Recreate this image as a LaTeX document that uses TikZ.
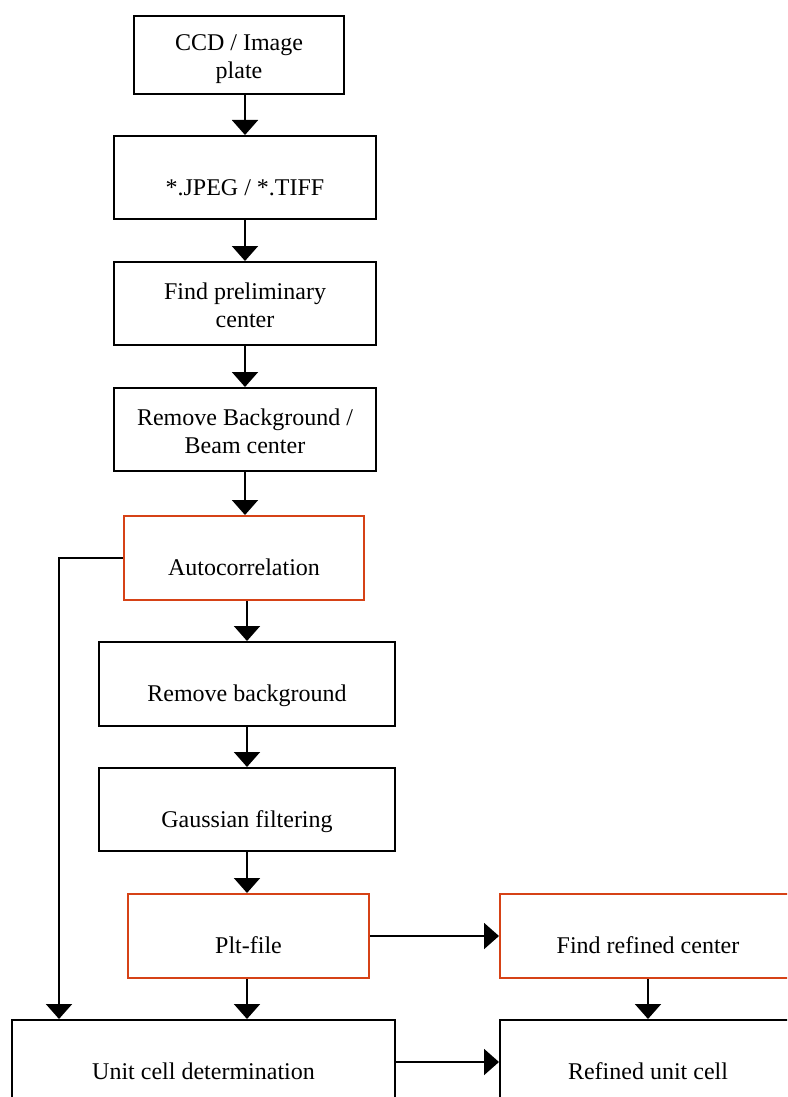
\documentclass[tikz,border=0pt]{standalone}
\usepackage{fontspec}
\setmainfont{Liberation Serif}
\usetikzlibrary{arrows.meta}
\definecolor{boxred}{RGB}{214,66,22}
\newcommand{\twolines}[2]{\raisebox{-2pt}[\height][\depth]{\begin{tabular}{@{}c@{}}#1\\#2\end{tabular}}}
\begin{document}
\begin{tikzpicture}[x=0.5pt,y=-0.5pt,
    every node/.style={draw,rectangle,line width=1pt,font=\fontsize{12}{14}\selectfont,inner sep=0},
    red/.style={draw=boxred},
    low/.style={text height=17.5pt,text depth=0pt},
    arr/.style={line width=1pt,-{Triangle[width=13pt,length=7.5pt]}}]
        \useasboundingbox (0,0) rectangle (787,1097);
        \clip (0,0) rectangle (787,1097);
        \node[minimum width=105pt,minimum height=39pt] (ccd) at (239,55) {\twolines{CCD / Image}{plate}};
        \node[low,minimum width=131pt,minimum height=41.5pt] (jpeg) at (245,177.5) {*.JPEG / *.TIFF};
        \node[minimum width=131pt,minimum height=41.5pt] (prelim) at (245,303.5) {\twolines{Find preliminary}{center}};
        \node[minimum width=131pt,minimum height=41.5pt] (beam) at (245,429.5) {\twolines{Remove Background /}{Beam center}};
        \node[red,low,minimum width=120pt,minimum height=42pt] (auto) at (244,558) {Autocorrelation};
        \node[low,minimum width=148pt,minimum height=42pt] (rembg) at (247,684) {Remove background};
        \node[low,minimum width=148pt,minimum height=41.5pt] (gauss) at (247,809.5) {Gaussian filtering};
        \node[red,low,minimum width=120.5pt,minimum height=42pt] (plt) at (248.5,936) {Plt-file};
        \node[red,low,minimum width=148pt,minimum height=42pt] (refcen) at (648,936) {Find refined center};
        \node[low,minimum width=191.5pt,minimum height=42pt] (cell) at (203.5,1062) {Unit cell determination};
        \node[low,minimum width=148pt,minimum height=42pt] (refcell) at (648,1062) {Refined unit cell};
        \coordinate (side) at (59,0);
        \draw[arr] (jpeg.north |- ccd.south) -- (jpeg.north);
        \draw[arr] (jpeg.south) -- (prelim.north);
        \draw[arr] (prelim.south) -- (beam.north);
        \draw[arr] (beam.south) -- (beam.south |- auto.north);
        \draw[arr] (rembg.north |- auto.south) -- (rembg.north);
        \draw[arr] (rembg.south) -- (gauss.north);
        \draw[arr] (gauss.south) -- (gauss.south |- plt.north);
        \draw[arr] (gauss.south |- plt.south) -- (gauss.south |- cell.north);
        \draw[arr] (auto.west) -| (side |- cell.north);
        \draw[arr] (plt.east) -- (refcen.west);
        \draw[arr] (refcen.south) -- (refcell.north);
        \draw[arr] (cell.east) -- (refcell.west);
      \end{tikzpicture}
\end{document}
